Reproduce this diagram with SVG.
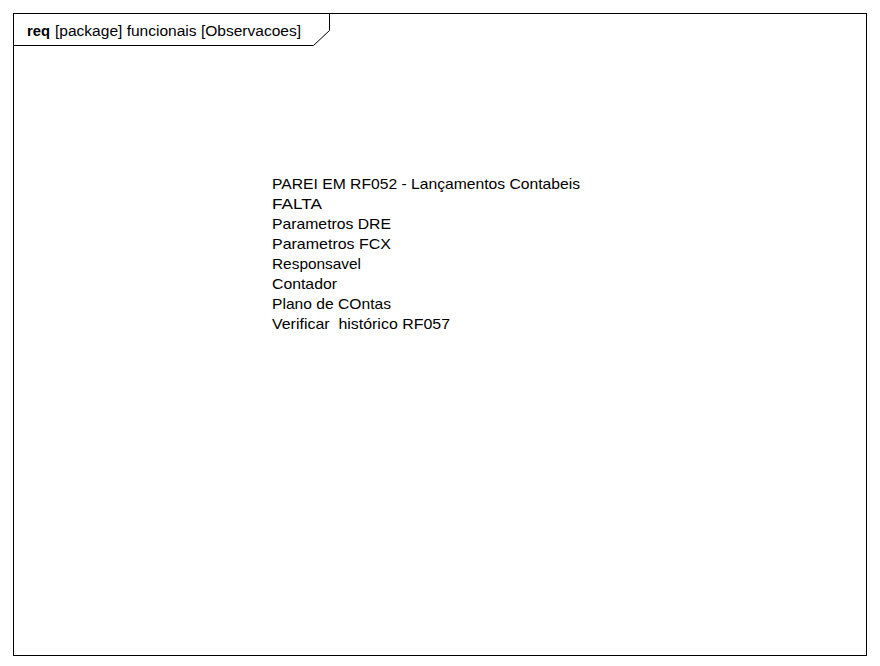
<svg xmlns="http://www.w3.org/2000/svg" width="880" height="666" viewBox="0 0 880 666">
<style>
.ln{fill:none;stroke:#000;stroke-width:1}
.t{font-family:"Liberation Sans",Arial,sans-serif;font-size:14.5px;fill:#000}
.h{font-family:"Liberation Sans",Arial,sans-serif;font-size:14px;fill:#000}
</style>
<rect width="880" height="666" fill="#fff"/>
<g id="frame">
<rect class="ln" x="13.5" y="13.5" width="853" height="642"/>
<path class="ln" d="M13.5 45.5 H313.5 L329.5 30.5 V13.5"/>
<text class="h" x="27" y="36" font-weight="bold" textLength="23" lengthAdjust="spacingAndGlyphs">req</text>
<text class="h" x="55" y="36" textLength="246" lengthAdjust="spacingAndGlyphs">[package] funcionais [Observacoes]</text>
</g>
<g id="note">
<text class="t" x="272" y="188.5" textLength="308" lengthAdjust="spacingAndGlyphs">PAREI EM RF052 - Lançamentos Contabeis</text>
<text class="t" x="272" y="208.5" textLength="50" lengthAdjust="spacingAndGlyphs">FALTA</text>
<text class="t" x="272" y="228.5" textLength="119" lengthAdjust="spacingAndGlyphs">Parametros DRE</text>
<text class="t" x="272" y="248.5" textLength="119" lengthAdjust="spacingAndGlyphs">Parametros FCX</text>
<text class="t" x="272" y="268.5" textLength="89" lengthAdjust="spacingAndGlyphs">Responsavel</text>
<text class="t" x="272" y="288.5" textLength="65" lengthAdjust="spacingAndGlyphs">Contador</text>
<text class="t" x="272" y="308.5" textLength="119" lengthAdjust="spacingAndGlyphs">Plano de COntas</text>
<text class="t" x="272" y="328.5" textLength="178" lengthAdjust="spacingAndGlyphs" xml:space="preserve">Verificar  histórico RF057</text>
</g>
<g id="connectors"/>
</svg>
